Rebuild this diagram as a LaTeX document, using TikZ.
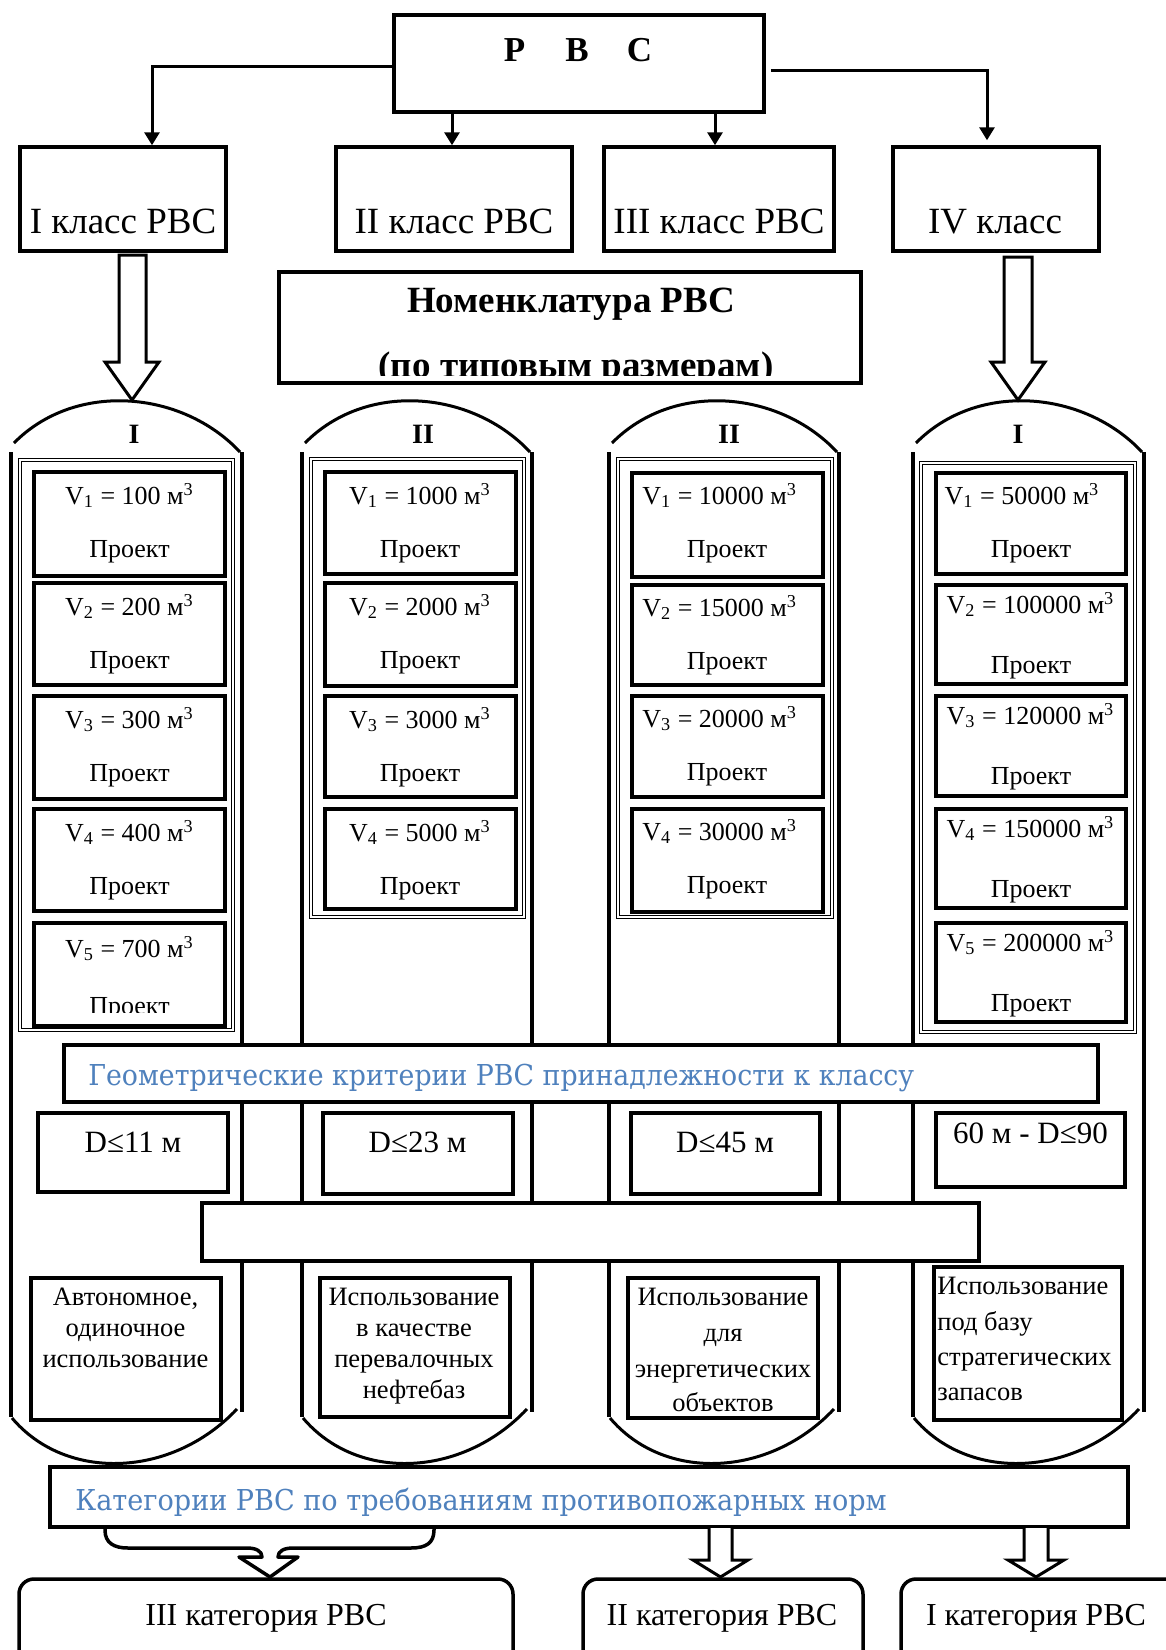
\documentclass[tikz,border=0pt]{standalone}
\usepackage{fontspec}
\setmainfont{Liberation Serif}
\newfontfamily\bluefont{DejaVu Serif}[FakeStretch=0.94]
\newfontfamily\bluefontb{DejaVu Serif}[FakeStretch=0.93]
\usetikzlibrary{fit,arrows.meta}
\definecolor{wordblue}{RGB}{79,129,189}
\newcommand\tankshape[2]{%
  \draw[wallline] (#1,452) -- (#1,1417);
  \draw[wallline] (#2,452) -- (#2,1412);
  \draw[arcline] (#1+3,443) .. controls (#1+64,381) and (#2-60,390) .. (#2-2,452);
  \draw[arcline] (#1+1,1418) .. controls (#1+55,1482) and (#2-70,1478) .. (#2-5,1409);
}
\begin{document}
\begin{tikzpicture}[x=0.5pt,y=-0.5pt,
  bx/.style={draw, line width=1.75pt, inner sep=0pt, fill=white},
  vb/.style={draw, line width=2pt, inner sep=0pt},
  frm/.style={draw, double, double distance=0.7pt, line width=0.8pt, inner sep=0pt},
  wallline/.style={line width=1.6pt},
  arcline/.style={line width=1.5pt},
  conn/.style={line width=1.5pt, -{Triangle[width=7.5pt,length=6.5pt]}},
  blk/.style={draw, line width=1.5pt, fill=white, line join=miter},
  brc/.style={line width=1.75pt, line join=round},
  cls/.style={font=\fontsize{18.5pt}{22pt}\selectfont, inner sep=0pt, anchor=base},
  val/.style={font=\fontsize{13pt}{15pt}\selectfont, inner sep=0pt, anchor=base},
  dtx/.style={font=\fontsize{15.5pt}{18pt}\selectfont, inner sep=0pt, anchor=base},
  use/.style={font=\fontsize{13.25pt}{15.5pt}\selectfont, inner sep=0pt, anchor=base},
  cat/.style={font=\fontsize{16pt}{19pt}\selectfont, inner sep=0pt, anchor=base},
  bluet/.style={font=\bluefont\fontsize{14.4pt}{17pt}\selectfont, text=wordblue, inner sep=0pt, anchor=base west},
  ttl/.style={font=\bfseries\fontsize{18.5pt}{22pt}\selectfont, inner sep=0pt, anchor=base},
  tlab/.style={font=\bfseries\fontsize{14pt}{16pt}\selectfont, inner sep=0pt, anchor=base}
]
\useasboundingbox (0,0) rectangle (1166,1650);
\clip (0,0) rectangle (1166,1650);

% ---------- tanks ----------
\tankshape{11}{242}
\tankshape{302}{532}
\tankshape{609}{839}
\tankshape{913}{1144}

\node[frm, fit={(20,460) (233,1030)}] (f1) {};
\node[frm, fit={(311,459) (524,917)}] (f2) {};
\node[frm, fit={(618,459) (832,917)}] (f3) {};
\node[frm, fit={(921,463) (1135,1032)}] (f4) {};

\node[tlab] (l1) at (134,443) {I};
\node[tlab] (l2) at (423,443) {II};
\node[tlab] (l3) at (729,443) {II};
\node[tlab] (l4) at (1018,443) {I};

% tank I cells
\foreach \rn/\ty/\by/\vol in {1/472/576/100,2/583/685/200,3/696/799/300,4/809/911/400}{
  \node[vb, fit={(34,\ty) (225,\by)}] (a\rn) {};
  \node[val] (av\rn) at (129.5,\ty+32) {V\textsubscript{\rn} = \vol{} м\textsuperscript{3}};
  \node[val] (ap\rn) at (129.5,\ty+85) {Проект};
}
\node[vb, fit={(34,923) (225,1026)}] (a5) {};
\node[val] (av5) at (129.5,957) {V\textsubscript{5} = 700 м\textsuperscript{3}};
\begin{scope}
  \clip (30,930) rectangle (230,1012.5);
  \node[val] (ap5) at (129.5,1014) {Проект};
\end{scope}

% tank II cells
\foreach \rn/\ty/\by/\vol in {1/472/574/1000,2/583/686/2000,3/696/797/3000,4/809/909/5000}{
  \node[vb, fit={(324.5,\ty) (516,\by)}] (b\rn) {};
  \node[val] (bv\rn) at (420,\ty+32) {V\textsubscript{\rn} = \vol{} м\textsuperscript{3}};
  \node[val] (bp\rn) at (420,\ty+85) {Проект};
}

% tank III cells
\foreach \rn/\ty/\by/\vol in {1/473/577/10000,2/585/685/15000,3/696/797/20000,4/809/912/30000}{
  \node[vb, fit={(632,\ty) (823,\by)}] (c\rn) {};
  \node[val, anchor=base west] (cv\rn) at (642,\ty+31) {V\textsubscript{\rn} = \vol{} м\textsuperscript{3}};
  \node[val] (cp\rn) at (727,\ty+84) {Проект};
}

% tank IV cells
\node[vb, fit={(936,473) (1126,574)}] (d1) {};
\node[val] (dv1) at (1022,504) {V\textsubscript{1} = 50000 м\textsuperscript{3}};
\node[val] (dp1) at (1031,557) {Проект};
\foreach \rn/\ty/\by/\vol in {2/585/684/100000,3/696/796/120000,4/809/908/150000,5/923/1022/200000}{
  \node[vb, fit={(936,\ty) (1126,\by)}] (d\rn) {};
  \node[val] (dv\rn) at (1030.5,\ty+28) {V\textsubscript{\rn} = \vol{} м\textsuperscript{3}};
  \node[val] (dp\rn) at (1031,\ty+88.5) {Проект};
}

% ---------- top part ----------
\node[bx, fit={(394,15) (764,112)}] (rvs) {};
\node[ttl, font=\bfseries\fontsize{17.5pt}{20pt}\selectfont] (rvst) at (577,61)
  {\makebox[31.25pt]{Р}\makebox[31.25pt]{В}\makebox[31.25pt]{С}};

\node[bx, fit={(20,147) (226,251)}] (k1box) {};
\node[bx, fit={(336,147) (572,251)}] (k2box) {};
\node[bx, fit={(604,147) (834,251)}] (k3box) {};
\node[bx, fit={(893,147) (1099,251)}] (k4box) {};
\node[cls] (k1t) at (123,233) {I класс РВС};
\node[cls] (k2t) at (454,233) {II класс РВС};
\node[cls] (k3t) at (719,233) {III класс РВС};
\node[cls] (k4t) at (995,233) {IV класс};

\coordinate (j1) at (152,66);
\coordinate (j2) at (452,113);
\coordinate (j3) at (715,113);
\coordinate (j4) at (987,70);
\draw[conn] (rvs.west |- j1) -- (j1) -- (j1 |- k1box.north);
\draw[conn] (rvs.south -| j2) -- (j2 |- k2box.north);
\draw[conn] (rvs.south -| j3) -- (j3 |- k3box.north);
\draw[conn, shorten <=2.5pt, shorten >=2.5pt] (rvs.east |- j4) -- (j4) -- (j4 |- k4box.north);

\node[bx, fit={(279,272) (861,383)}] (nom) {};
\node[ttl] (nom1) at (571,312) {Номенклатура РВС};
\begin{scope}
  \clip (282,320) rectangle (858,375.5);
  \node[ttl] (nom2) at (576,377) {(по типовым размерам)};
\end{scope}

% hollow block arrows to tanks
\draw[blk] (119,255) -- (146,255) -- (146,362) -- (159,362) -- (132,400) -- (105,362) -- (119,362) -- cycle;
\draw[blk] (1004,257) -- (1032,257) -- (1032,362) -- (1045,362) -- (1018,400) -- (991,362) -- (1004,362) -- cycle;

% ---------- criteria ----------
\node[bx, line width=2pt, fit={(64,1045) (1098,1102)}] (geo) {};
\node[bluet, font=\bluefontb\fontsize{14.4pt}{17pt}\selectfont] (geot) at (88,1085) {Геометрические критерии РВС принадлежности к классу};

\node[bx, line width=2pt, fit={(38,1113) (228,1192)}] (dd1) {};
\node[bx, line width=2pt, fit={(323,1113) (513,1194)}] (dd2) {};
\node[bx, line width=2pt, fit={(631,1113) (820,1194)}] (dd3) {};
\node[bx, line width=2pt, fit={(936,1113) (1125,1187)}] (dd4) {};
\node[dtx] (dt1) at (133,1152) {D≤11 м};
\node[dtx] (dt2) at (417.5,1152) {D≤23 м};
\node[dtx] (dt3) at (725,1152) {D≤45 м};
\node[dtx] (dt4) at (1030.5,1143) {60 м - D≤90};

\node[bx, line width=2pt, fit={(202,1203) (979,1261)}] (empty) {};

\node[bx, line width=2pt, fit={(31,1278) (221,1420)}] (u1) {};
\node[bx, line width=2pt, fit={(320,1278) (510,1417)}] (u2) {};
\node[bx, line width=2pt, fit={(628,1278) (818,1418)}] (u3) {};
\node[bx, line width=2pt, fit={(934,1267) (1122,1420)}] (u4) {};

\node[use] (u1a) at (125.5,1305) {Автономное,};
\node[use] (u1b) at (125.5,1336) {одиночное};
\node[use] (u1c) at (125.5,1367) {использование};

\node[use] (u2a) at (414,1305) {Использование};
\node[use] (u2b) at (414,1336) {в качестве};
\node[use] (u2c) at (414,1367) {перевалочных};
\node[use] (u2d) at (414,1398) {нефтебаз};

\node[use] (u3a) at (723,1305) {Использование};
\node[use] (u3b) at (723,1341) {для};
\node[use] (u3c) at (723,1377) {энергетических};
\node[use] (u3d) at (723,1411) {объектов};

\node[use, anchor=base west] (u4a) at (937,1294) {Использование};
\node[use, anchor=base west] (u4b) at (937,1330) {под базу};
\node[use, anchor=base west] (u4c) at (937,1365) {стратегических};
\node[use, anchor=base west] (u4d) at (937,1400) {запасов};

% ---------- categories ----------
\node[bx, line width=2pt, fit={(50,1467) (1128,1527)}] (cats) {};
\node[bluet] (catst) at (75,1510) {Категории РВС по требованиям противопожарных норм};

\node[bx, rounded corners=7.5pt, fit={(19,1579) (513,1700)}] (g3) {};
\node[bx, rounded corners=7.5pt, fit={(583,1579) (863,1700)}] (g2) {};
\node[bx, rounded corners=7.5pt, fit={(901,1579) (1200,1700)}] (g1) {};
\node[cat] (g3t) at (266,1625) {III категория РВС};
\node[cat] (g2t) at (722,1625) {II категория РВС};
\node[cat] (g1t) at (1036,1625) {I категория РВС};

\coordinate (bl) at (105,1527);
\coordinate (br) at (434,1527);
\draw[brc] (bl |- cats.south) -- (105,1530) .. controls (105,1543) and (114,1548) .. (128,1548)
  -- (247,1548) .. controls (256,1548) and (262,1551) .. (262,1557)
  -- (239,1557) -- (270,1577) -- (298,1557) -- (278,1557)
  .. controls (278,1551) and (284,1548) .. (293,1548)
  -- (411,1548) .. controls (426,1548) and (434,1543) .. (434,1530) -- (br |- cats.south);

\draw[blk] (709,1528) -- (709,1560) -- (693,1560) -- (720.5,1577) -- (748,1560) -- (732,1560) -- (732,1528);
\draw[blk] (1024,1528) -- (1024,1560) -- (1008,1560) -- (1036,1577) -- (1064,1560) -- (1048,1560) -- (1048,1528);
\end{tikzpicture}
\end{document}
